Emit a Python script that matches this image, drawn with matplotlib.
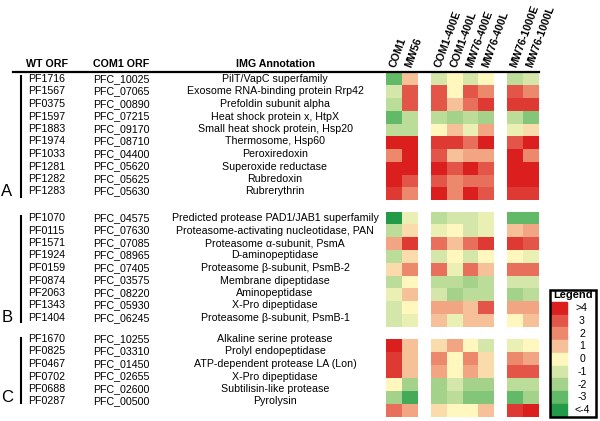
import matplotlib.pyplot as plt
import numpy as np
from matplotlib.colors import LinearSegmentedColormap
from matplotlib.patches import Rectangle

plt.rcParams['font.family'] = ['Liberation Sans', 'DejaVu Sans']

# table text
wt_a = ["PF1716", "PF1567", "PF0375", "PF1597", "PF1883", "PF1974", "PF1033", "PF1281", "PF1282", "PF1283"]
com_a = ["PFC_10025", "PFC_07065", "PFC_00890", "PFC_07215", "PFC_09170", "PFC_08710", "PFC_04400", "PFC_05620", "PFC_05625", "PFC_05630"]
ann_a = ["PilT/VapC superfamily", "Exosome RNA-binding protein Rrp42", "Prefoldin subunit alpha",
         "Heat shock protein x, HtpX", "Small heat shock protein, Hsp20", "Thermosome, Hsp60",
         "Peroxiredoxin", "Superoxide reductase", "Rubredoxin", "Rubrerythrin"]

wt_b = ["PF1070", "PF0115", "PF1571", "PF1924", "PF0159", "PF0874", "PF2063", "PF1343", "PF1404"]
com_b = ["PFC_04575", "PFC_07630", "PFC_07085", "PFC_08965", "PFC_07405", "PFC_03575", "PFC_08220", "PFC_05930", "PFC_06245"]
ann_b = ["Predicted protease PAD1/JAB1 superfamily", "Proteasome-activating nucleotidase, PAN",
         "Proteasome \u03b1-subunit, PsmA", "D-aminopeptidase", "Proteasome \u03b2-subunit, PsmB-2",
         "Membrane dipeptidase", "Aminopeptidase", "X-Pro dipeptidase", "Proteasome \u03b2-subunit, PsmB-1"]

wt_c = ["PF1670", "PF0825", "PF0467", "PF0702", "PF0688", "PF0287"]
com_c = ["PFC_10255", "PFC_03310", "PFC_01450", "PFC_02655", "PFC_02600", "PFC_00500"]
ann_c = ["Alkaline serine protease", "Prolyl endopeptidase", "ATP-dependent protease LA (Lon)",
         "X-Pro dipeptidase", "Subtilisin-like protease", "Pyrolysin"]

col_blocks = [["COM1", "MW56"],
              ["COM1-400E", "COM1-400L", "MW76-400E", "MW76-400L"],
              ["MW76-1000E", "MW76-1000L"]]

# log2 fold changes, columns: COM1, MW56, COM1-400E, COM1-400L, MW76-400E, MW76-400L, MW76-1000E, MW76-1000L
vals_a = [[-3, 1, -1, 0, -1, 0, -1.5, -1],
          [-1, 3, 3, 0, 3, 2, 3, 2],
          [-1.5, 3, 3, 1, 2.5, 3.5, 3.5, 3.5],
          [-3, -1.5, -1.5, -2, -1.5, -2, -1.5, -2.5],
          [-1.5, -1.5, 0, 1, -0.5, 1.5, -0.5, 0.5],
          [4, 4, 3.5, 3.5, 2.5, 4, 3, 4],
          [2, 4, 3, 1, 1.5, 1.5, 4, 2],
          [4, 4, 4, 3, 4, 3, 4, 4],
          [4, 3, 3, 2, 2.5, 2.5, 4, 4],
          [3.5, 2, 4, 2, 4, 3, 3.5, 3.5]]
vals_b = [[-4, -0.5, -1.5, -1, -1, -0.5, -3, -3],
          [-1.5, 0.5, -0.5, 0, -1, -0.5, 1, 1.5],
          [1.5, 3.5, 2.5, 1, 2.5, 3.5, 3.5, 3],
          [-1.5, 0.5, -1, 0, -1, 0, 0, -0.5],
          [0.5, 2, 2.5, -0.5, 2.5, 1, 2.5, 2.5],
          [-1.5, 0, -1.5, -1.5, -2, -1.5, -1, -1],
          [-0.5, 1, -1, -2, -1.5, -1.5, -2, -1.5],
          [-1, 0, 1.5, 1.5, 1, 3, 1.5, 1.5],
          [-1, -0.5, 1, -0.5, 1, 1, 0, 1]]
vals_c = [[4, 1, 0.5, 1.5, 0, -1, -0.5, 0],
          [3.5, 1, 2, 0, 2, 0.5, 2, 1.5],
          [3.5, 1, 1.5, 0, 1.5, 0.5, 3, 3],
          [0, -2, -2, -1, -2, -2, -1.5, -1.5],
          [-2, -3.5, -2, -1.5, -2.5, -2.5, -3, -2],
          [2.5, 1.5, 0.5, 0, 0, 1, 3.5, 4]]

legend_labels = [">4", "3", "2", "1", "0", "-1", "-2", "-3", "<-4"]
legend_vals = [4, 3, 2, 1, 0, -1, -2, -3, -4]
colors = ["#239a48", "#62b968", "#a4d28a", "#d3e6a9", "#fff8bf",
          "#f6c29a", "#ec8a6e", "#e4574a", "#db1f1f"]
cmap = LinearSegmentedColormap.from_list("rg", colors)

fig = plt.figure(figsize=(6, 4.21), dpi=100)
ax = fig.add_axes([0, 0, 1, 1])
ax.set_xlim(0, 600)
ax.set_ylim(421, 0)
ax.axis("off")

fs = 7.7
# header
ax.text(47, 64, "WT ORF", fontsize=fs, fontweight="bold", ha="center", va="center")
ax.text(121, 64, "COM1 ORF", fontsize=fs, fontweight="bold", ha="center", va="center")
ax.text(275, 64, "IMG Annotation", fontsize=fs, fontweight="bold", ha="center", va="center")
ax.plot([13, 539], [71.5, 71.5], color="black", lw=1.6)

# text table
row_h = 12.5
groups = [(wt_a, com_a, ann_a, 79, "A", 76, 197),
          (wt_b, com_b, ann_b, 218, "B", 216, 322),
          (wt_c, com_c, ann_c, 339, "C", 338, 403)]
for wt, com, ann, y0, lab, bar0, bar1 in groups:
    for i in range(len(wt)):
        y = y0 + i * row_h
        ax.text(28, y, wt[i], fontsize=fs, ha="left", va="center")
        ax.text(93, y, com[i], fontsize=fs, ha="left", va="center")
        ax.text(275, y, ann[i], fontsize=fs, ha="center", va="center")
    ax.plot([20.5, 20.5], [bar0, bar1], color="black", lw=1.5)
    ax.text(7, bar1 - 5, lab, fontsize=12, ha="center", va="center")

# heatmap blocks
block_x0 = [386, 431, 507]
cw = 15.8
heat = [(vals_a, 72.7, 12.73), (vals_b, 211.5, 12.8), (vals_c, 339, 12.95)]
for vals, top, rh in heat:
    v = np.array(vals)
    start = 0
    for bx, names in zip(block_x0, col_blocks):
        n = len(names)
        xe = bx + cw * np.arange(n + 1)
        ye = top + rh * np.arange(v.shape[0] + 1)
        ax.pcolormesh(xe, ye, v[:, start:start + n], cmap=cmap, vmin=-4, vmax=4)
        start += n

# column labels
for bx, names in zip(block_x0, col_blocks):
    for j, name in enumerate(names):
        ax.text(bx + cw * (j + 0.5) - 1, 67, name, fontsize=7.7, fontweight="bold",
                rotation=70, rotation_mode="anchor", ha="left", va="center")

# legend
ax.add_patch(Rectangle((550, 289.5), 46, 127, fill=False, ec="black", lw=1.8, zorder=5))
ax.text(573, 295.5, "Legend", fontsize=8, fontweight="bold", ha="center", va="center")
sw_top = 302
sw_h = 12.7
for k, (lv, ll) in enumerate(zip(legend_vals, legend_labels)):
    ax.add_patch(Rectangle((551, sw_top + k * sw_h), 16, sw_h, color=cmap((lv + 4) / 8)))
    ax.text(582, sw_top + (k + 0.5) * sw_h, ll, fontsize=7.6, ha="center", va="center")

fig.savefig("out.png", dpi=100)
